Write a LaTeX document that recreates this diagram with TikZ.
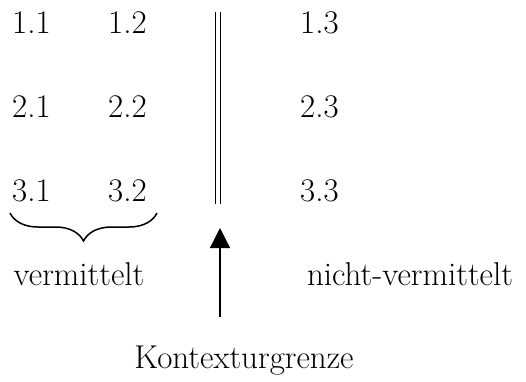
\documentclass[tikz,border=0pt]{standalone}
\usetikzlibrary{arrows.meta,decorations.pathreplacing}
\begin{document}
\begin{tikzpicture}[x=1pt,y=-1pt,
  lbl/.style={inner sep=0pt,font=\fontsize{33}{39}\selectfont},
  num/.style={lbl,anchor=base west},
  word/.style={lbl,anchor=base},
  rule/.style={line width=1.8pt},
  bracepath/.style={line width=1.5pt,decorate,decoration={brace,mirror,amplitude=28pt}}]
\useasboundingbox (0,0) rectangle (526,381);
% grid of numbered positions
\node[num] (n11) at (12,33) {1.1};
\node[num] (n12) at (108,33) {1.2};
\node[num] (n13) at (300,33) {1.3};
\node[num] (n21) at (12,117) {2.1};
\node[num] (n22) at (108,117) {2.2};
\node[num] (n23) at (300,117) {2.3};
\node[num] (n31) at (12,201) {3.1};
\node[num] (n32) at (108,201) {3.2};
\node[num] (n33) at (300,201) {3.3};
% double boundary line
\draw[rule] (215.5,12) -- (215.5,204);
\draw[rule] (220.5,12) -- (220.5,204);
% brace under the first two columns
\coordinate (bl) at (10,213);
\coordinate (br) at (157,213);
\draw[bracepath] (bl) -- (br);
% labels
\node[word] (verm) at (79,285) {vermittelt};
\node[word] (nverm) at (410,285) {nicht-vermittelt};
\node[word] (kg) at (244,368) {Kontexturgrenze};
% arrow pointing up to the boundary
\coordinate (atail) at (220,317);
\coordinate (ahead) at (220,228);
\draw[line width=1.3pt,-{Triangle[width=20pt,length=20pt]}] (atail) -- (ahead);
\end{tikzpicture}
\end{document}
